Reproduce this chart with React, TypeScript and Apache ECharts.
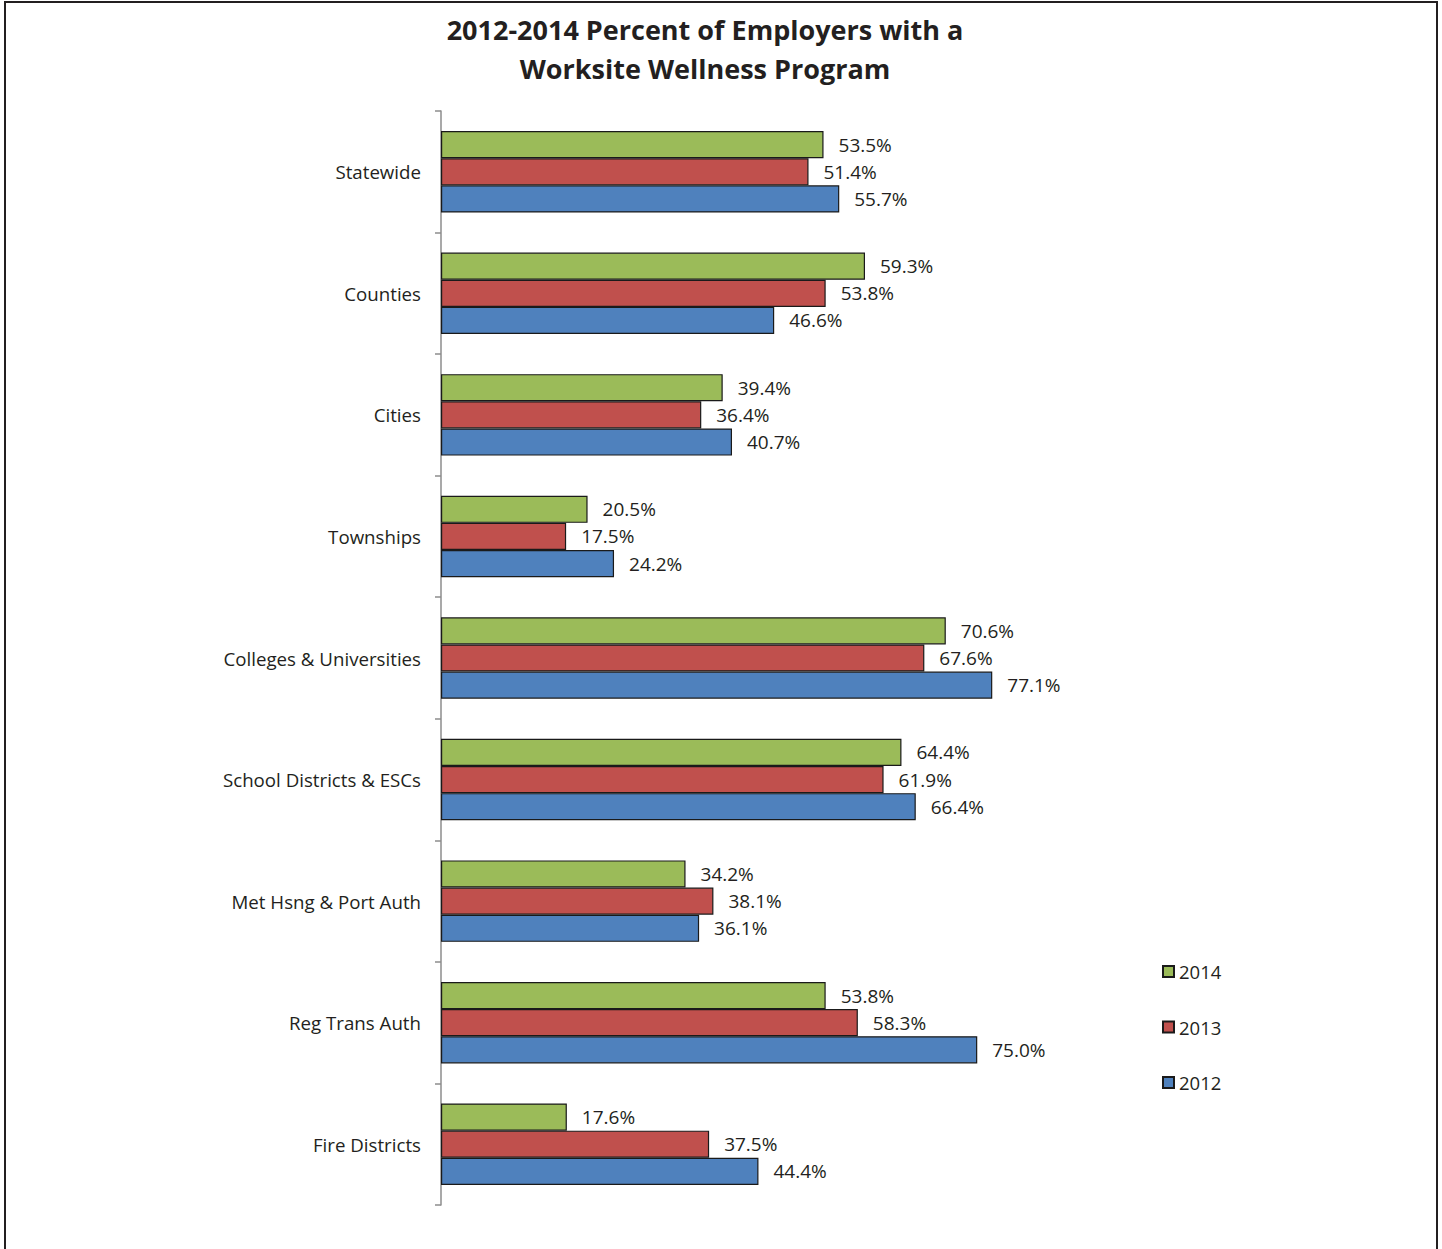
import React, { useEffect, useRef } from "react";
import * as echarts from "echarts";

const categories = [
  "Statewide",
  "Counties",
  "Cities",
  "Townships",
  "Colleges & Universities",
  "School Districts & ESCs",
  "Met Hsng & Port Auth",
  "Reg Trans Auth",
  "Fire Districts",
];
const values2014 = [53.5, 59.3, 39.4, 20.5, 70.6, 64.4, 34.2, 53.8, 17.6];
const values2013 = [51.4, 53.8, 36.4, 17.5, 67.6, 61.9, 38.1, 58.3, 37.5];
const values2012 = [55.7, 46.6, 40.7, 24.2, 77.1, 66.4, 36.1, 75.0, 44.4];
const seriesNames = ["2014", "2013", "2012"];
const seriesColors = ["#9BBB59", "#C0504D", "#4F81BD"];

const FONT = "'Open Sans', Lato, sans-serif";
const TEXT = "#231F20";

export default function App() {
  const ref = useRef<HTMLDivElement>(null);
  useEffect(() => {
    if (!ref.current) return;
    const chart = echarts.init(ref.current, undefined, { renderer: "svg" });
    const data = [values2014, values2013, values2012];
    chart.setOption({
      animation: false,
      backgroundColor: "#ffffff",
      title: {
        text: "2012-2014 Percent of Employers with a\nWorksite Wellness Program",
        left: 700,
        textAlign: "center",
        top: 5,
        textStyle: {
          fontFamily: FONT,
          fontWeight: "bold",
          fontSize: 27,
          lineHeight: 39,
          color: TEXT,
        },
      },
      graphic: [
        {
          type: "rect",
          shape: { x: 5, y: 2, width: 1432, height: 1270 },
          style: { fill: "none", stroke: TEXT, lineWidth: 2 },
          silent: true,
        },
      ],
      legend: {
        orient: "vertical",
        left: 1157,
        top: 957,
        itemGap: 36.5,
        itemWidth: 11,
        itemHeight: 11,
        icon: "rect",
        data: seriesNames,
        textStyle: { fontFamily: FONT, fontSize: 18.5, color: TEXT },
      },
      grid: { left: 441, top: 111, width: 715, height: 1094, containLabel: false },
      xAxis: {
        type: "value",
        min: 0,
        max: 100,
        show: false,
        splitLine: { show: false },
      },
      yAxis: {
        type: "category",
        inverse: true,
        data: categories,
        axisLine: { show: true, lineStyle: { color: "#8C8C8C", width: 1.5 } },
        axisTick: { show: true, length: 6, lineStyle: { color: "#8C8C8C", width: 1.5 } },
        axisLabel: { margin: 20, fontFamily: FONT, fontSize: 18.7, color: TEXT },
      },
      series: seriesNames.map((name, i) => ({
        name,
        type: "bar",
        data: data[i],
        barGap: "0%",
        barCategoryGap: "33%",
        itemStyle: { color: seriesColors[i], borderColor: "#1a1a1a", borderWidth: 1.2 },
        label: {
          show: true,
          position: "right",
          distance: 15,
          fontFamily: FONT,
          fontSize: 19,
          color: TEXT,
          formatter: (p: any) => Number(p.value).toFixed(1) + "%",
        },
      })),
    });
    return () => chart.dispose();
  }, []);
  return (
    <div
      ref={ref}
      style={{ position: "absolute", left: 0, top: 0, width: 1442, height: 1249 }}
    />
  );
}
